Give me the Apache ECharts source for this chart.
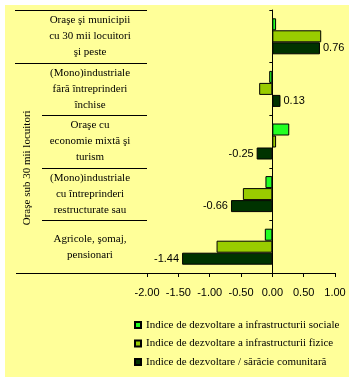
<!DOCTYPE html>
<html><head><meta charset="utf-8">
<script src="https://cdn.jsdelivr.net/npm/echarts@6/dist/echarts.min.js"></script>
<style>html,body{margin:0;padding:0;background:#fff;}#c{width:355px;height:383px;}</style>
</head><body><div id="c"></div>
<script>
var categories = [
  "Oraşe şi municipii\ncu 30 mii locuitori\nşi peste",
  "(Mono)industriale\nfără întreprinderi\nînchise",
  "Oraşe cu\neconomie mixtă şi\nturism",
  "(Mono)industriale\ncu întreprinderi\nrestructurate sau",
  "Agricole, şomaj,\npensionari"
];
var groupLabel = "Oraşe sub 30 mii locuitori";
var seriesNames = [
  "Indice de dezvoltare a infrastructurii sociale",
  "Indice de dezvoltare a infrastructurii fizice",
  "Indice de dezvoltare / sărăcie comunitară"
];
var socialValues = [0.06, -0.05, 0.27, -0.11, -0.12];
var physicalValues = [0.78, -0.21, 0.06, -0.47, -0.89];
var povertyValues = [0.76, 0.13, -0.25, -0.66, -1.44];
var xTicks = {min: -2, max: 1, interval: 0.5};

var gridTop = 10, gridBottomY = 273, gridLeft = 147, gridRight = 335;
var band = (gridBottomY - gridTop) / categories.length;
var serif = "Liberation Serif";
var sans = "Liberation Sans";

var graphics = [{
  type: 'rect', z: -100, silent: true,
  shape: {x: 5, y: 5, width: 344, height: 372},
  style: {fill: '#FFFF99'}
}];
for (var i = 0; i < categories.length; i++) {
  var y = Math.round(gridTop + i * band) + 0.5;
  graphics.push({type: 'line', silent: true,
    shape: {x1: i <= 1 ? 15 : 42, y1: y, x2: gridLeft, y2: y},
    style: {stroke: '#000', lineWidth: 1}});
}
graphics.push({type: 'line', silent: true,
  shape: {x1: 16, y1: gridBottomY + 0.5, x2: gridLeft, y2: gridBottomY + 0.5},
  style: {stroke: '#000', lineWidth: 1}});
graphics.push({type: 'text', silent: true, x: 27, y: (gridTop + band + gridBottomY) / 2,
  rotation: Math.PI / 2,
  style: {text: groupLabel, font: '11px ' + serif, fill: '#000', align: 'center', verticalAlign: 'middle'}});

var chart = echarts.init(document.getElementById('c'));
var colors = ['#22FF22', '#99CC00', '#003300'];
chart.setOption({
  animation: false,
  backgroundColor: 'transparent',
  grid: {left: gridLeft, right: 355 - gridRight, top: gridTop, height: gridBottomY - gridTop},
  graphic: graphics,
  legend: {
    orient: 'vertical', left: 129, top: 314, icon: 'rect',
    itemWidth: 6, itemHeight: 6, itemGap: 6.5,
    textStyle: {fontFamily: serif, fontSize: 11, color: '#000', lineHeight: 12},
    data: seriesNames
  },
  xAxis: {
    type: 'value', min: xTicks.min, max: xTicks.max, interval: xTicks.interval,
    axisLine: {show: true, onZero: false, lineStyle: {color: '#000'}},
    axisTick: {show: true, length: 4, lineStyle: {color: '#000'}},
    splitLine: {show: false},
    axisLabel: {margin: 14, fontFamily: sans, fontSize: 11, color: '#000',
      formatter: function (v) { return v.toFixed(2); }}
  },
  yAxis: [{
    type: 'category', inverse: true, data: categories, position: 'left',
    axisLine: {show: false, onZero: false},
    axisTick: {show: false},
    axisLabel: {margin: 57, align: 'center', fontFamily: serif, fontSize: 11, color: '#000', lineHeight: 16}
  }, {
    type: 'category', inverse: true, data: categories, position: 'left',
    axisLine: {show: true, onZero: true, lineStyle: {color: '#000'}},
    axisTick: {show: true, length: 3, lineStyle: {color: '#000'}},
    axisLabel: {show: false}
  }],
  series: [
    {name: seriesNames[0], type: 'bar', yAxisIndex: 0, data: socialValues, barWidth: 12, barGap: '0%',
      itemStyle: {color: colors[0], borderColor: '#000', borderWidth: 1}},
    {name: seriesNames[1], type: 'bar', yAxisIndex: 0, data: physicalValues, barWidth: 12, barGap: '0%',
      itemStyle: {color: colors[1], borderColor: '#000', borderWidth: 1}},
    {name: seriesNames[2], type: 'bar', yAxisIndex: 0, barWidth: 12, barGap: '0%',
      itemStyle: {color: colors[2], borderColor: '#000', borderWidth: 1},
      data: povertyValues.map(function (v) {
        return {value: v, label: {show: true, position: v >= 0 ? 'right' : 'left', distance: 3,
          fontFamily: sans, fontSize: 11, color: '#000', formatter: function (p) { return p.value.toFixed(2); }}};
      })}
  ]
});
</script></body></html>
